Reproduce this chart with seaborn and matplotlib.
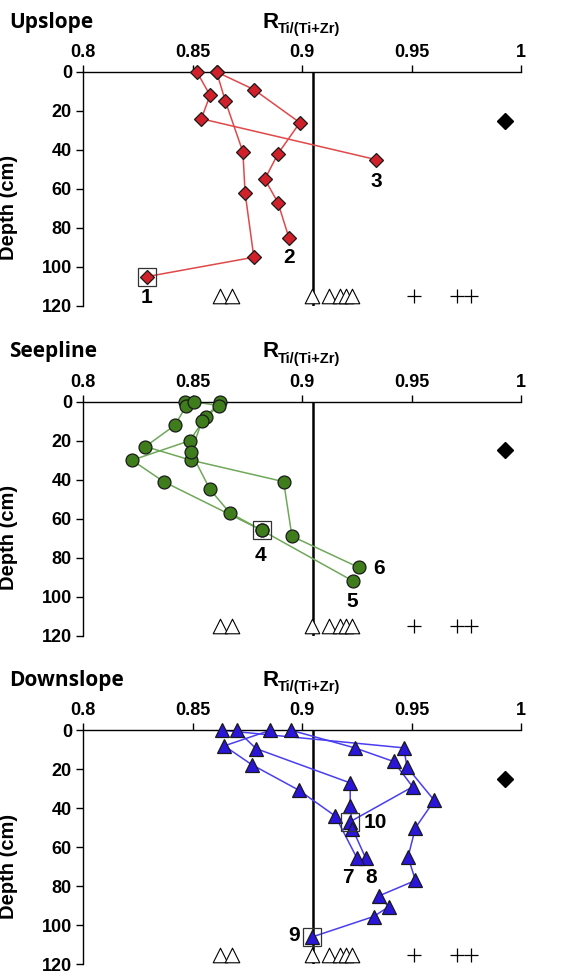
import matplotlib
matplotlib.use("Agg")
import seaborn as sns
import pandas as pd
import matplotlib.pyplot as plt

sns.set_theme(style="white")
plt.rcParams['font.family'] = ['Liberation Sans', 'DejaVu Sans']
plt.rcParams['text.color'] = 'black'
plt.rcParams['axes.labelcolor'] = 'black'

# upslope profiles (R value, depth cm)
up_a_r = [0.852, 0.858, 0.854, 0.934]
up_a_d = [0, 12, 24, 45]
up_b_r = [0.861, 0.865, 0.873, 0.874, 0.878, 0.829]
up_b_d = [0, 15, 41, 62, 95, 105]
up_c_r = [0.861, 0.878, 0.899, 0.889, 0.883, 0.889, 0.894]
up_c_d = [0, 9, 26, 42, 55, 67, 85]

# seepline profiles
seep_a_r = [0.8467, 0.8472, 0.842, 0.8285, 0.8493, 0.8916, 0.8954, 0.9259]
seep_a_d = [0, 2, 12, 23, 30, 41, 69, 85]
seep_b_r = [0.8624, 0.856, 0.8487, 0.8224, 0.8368, 0.8817, 0.9233]
seep_b_d = [0, 8, 20, 30, 41, 66, 92]
seep_c_r = [0.8505, 0.862, 0.8543, 0.8493, 0.858, 0.867, 0.8817]
seep_c_d = [0, 2, 10, 26, 45, 57, 66]

# downslope profiles
down_a_r = [0.8635, 0.9464, 0.948, 0.9604, 0.9518, 0.9484, 0.9518, 0.935, 0.9396, 0.9327, 0.9046]
down_a_d = [0, 9, 19, 36, 50, 65, 77, 85, 90.5, 95.5, 106]
down_b_r = [0.895, 0.924, 0.9418, 0.9505, 0.9218]
down_b_d = [0, 9, 16, 29, 47]
down_c_r = [0.8703, 0.879, 0.922, 0.922, 0.923, 0.929]
down_c_d = [0, 9.4, 27, 38.7, 50.4, 65.4]
down_d_r = [0.8855, 0.8645, 0.877, 0.8985, 0.9152, 0.925]
down_d_d = [0, 8, 17.6, 30.7, 44, 65.4]

# boxed samples and number labels
up_box = [(0.829, 105)]
up_labels = [("1", 0.829, 115.5), ("2", 0.894, 95), ("3", 0.934, 56)]
seep_box = [(0.8817, 66)]
seep_labels = [("4", 0.881, 79), ("6", 0.935, 85.5), ("5", 0.923, 102.5)]
down_box = [(0.9218, 47), (0.9046, 106)]
down_labels = [("10", 0.9335, 47.5), ("7", 0.9208, 75.5), ("8", 0.9318, 75.5), ("9", 0.8965, 105)]

# reference values along the bottom
ref_tri = [0.8624, 0.868, 0.9046, 0.9123, 0.9175, 0.920, 0.923]
ref_plus = [0.951, 0.9709, 0.977]
ref_depth = 115
crust_r, crust_d = 0.9927, 25
mean_line = 0.905

panels = [
    ("Upslope", [(up_a_r, up_a_d), (up_b_r, up_b_d), (up_c_r, up_c_d)], up_box, up_labels,
     "D", 7.5, "#d0202a", "#e0484a", 0.6862),
    ("Seepline", [(seep_a_r, seep_a_d), (seep_b_r, seep_b_d), (seep_c_r, seep_c_d)], seep_box, seep_labels,
     "o", 9.3, "#3f7d1c", "#6fa85a", 0.348),
    ("Downslope", [(down_a_r, down_a_d), (down_b_r, down_b_d), (down_c_r, down_c_d), (down_d_r, down_d_d)],
     down_box, down_labels, "^", 10, "#2a16d8", "#4a3ef0", 0.011),
]

fig = plt.figure(figsize=(5.81, 9.75), dpi=100)

for name, profiles, boxes, labels, mk, ms, mcol, lcol, bottom in panels:
    ax = fig.add_axes([0.1429, bottom, 0.7539, 0.24])
    ax.axvline(mean_line, color="black", lw=1.8, zorder=1)
    for r, d in profiles:
        sns.lineplot(x=r, y=d, sort=False, estimator=None, ax=ax, color=lcol, lw=1.1,
                     clip_on=False, zorder=2)
    for r, d in profiles:
        ax.plot(r, d, ls="none", marker=mk, ms=ms, mfc=mcol, mec="#1a1a1a", mew=0.9,
                clip_on=False, zorder=3)
    for bx, by in boxes:
        ax.plot(bx, by, ls="none", marker="s", ms=12.5, mfc="none", mec="#333333", mew=0.9,
                clip_on=False, zorder=4)
    for txt, lx, ly in labels:
        ax.text(lx, ly, txt, ha="center", va="center", fontsize=15, fontweight="bold",
                color="black")

    sns.scatterplot(x=ref_tri, y=[ref_depth] * len(ref_tri), ax=ax, marker="^", s=110,
                    facecolor="white", edgecolor="black", linewidth=0.8, zorder=3, clip_on=False)
    sns.scatterplot(x=ref_plus, y=[ref_depth] * len(ref_plus), ax=ax, marker="+", s=90,
                    color="black", linewidth=0.9, zorder=3, clip_on=False)
    ax.plot(crust_r, crust_d, ls="none", marker="D", ms=8, color="black", clip_on=False)

    ax.set_xlim(0.8, 1.0)
    ax.set_ylim(120, 0)
    ax.set_xticks([0.8, 0.85, 0.9, 0.95, 1.0])
    ax.set_xticklabels(["0.8", "0.85", "0.9", "0.95", "1"])
    ax.set_yticks([0, 20, 40, 60, 80, 100, 120])
    ax.xaxis.tick_top()
    ax.spines["bottom"].set_visible(False)
    ax.spines["right"].set_visible(False)
    for s in ("top", "left"):
        ax.spines[s].set_color("black")
        ax.spines[s].set_linewidth(1.0)
    ax.tick_params(axis="x", top=True, bottom=False, direction="out", length=5, width=1,
                   pad=3, labelsize=13, colors="black")
    ax.tick_params(axis="y", left=True, direction="out", length=5, width=1,
                   pad=3, labelsize=13, colors="black")
    for lab in ax.get_xticklabels() + ax.get_yticklabels():
        lab.set_fontweight("bold")
    ax.set_xlabel("")
    ax.set_ylabel("Depth (cm)", fontsize=14.5, fontweight="bold", color="black")
    ax.yaxis.set_label_coords(-0.148, 0.42)

    ax.annotate(name, xy=(0, 1), xycoords="axes fraction", xytext=(-53, 32),
                textcoords="offset points", fontsize=15, fontweight="bold",
                family=["Open Sans", "DejaVu Sans"], va="baseline", ha="left", color="black")
    ax.annotate("R", xy=(0, 1), xycoords="axes fraction", xytext=(129, 32),
                textcoords="offset points", fontsize=16, fontweight="bold",
                va="baseline", ha="left", color="black")
    ax.annotate("Ti/(Ti+Zr)", xy=(0, 1), xycoords="axes fraction", xytext=(140.5, 28),
                textcoords="offset points", fontsize=10.5, fontweight="bold",
                va="baseline", ha="left", color="black")

fig.savefig("out.png", dpi=100)
